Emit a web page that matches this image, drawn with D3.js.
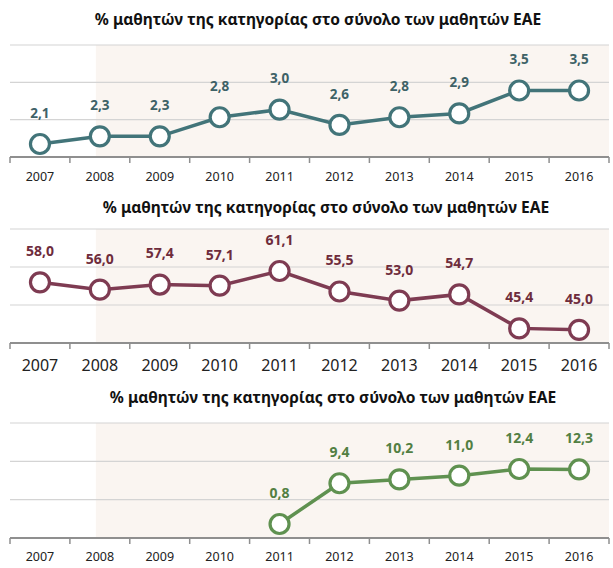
<!DOCTYPE html>
<html><head><meta charset="utf-8">
<script src="https://cdn.jsdelivr.net/npm/d3@7"></script>
<style>body{margin:0;background:#fff}svg{display:block}</style>
</head><body>
<script>
const years = ["2007","2008","2009","2010","2011","2012","2013","2014","2015","2016"];
const title = "% μαθητών της κατηγορίας στο σύνολο των μαθητών EAE";
const series1 = [2.1, 2.3, 2.3, 2.8, 3.0, 2.6, 2.8, 2.9, 3.5, 3.5];
const series2 = [58.0, 56.0, 57.4, 57.1, 61.1, 55.5, 53.0, 54.7, 45.4, 45.0];
const series3 = [null, null, null, null, 0.8, 9.4, 10.2, 11.0, 12.4, 12.3];
const domain1 = [1.76, 4.69];
const domain2 = [41.4, 72.6];
const domain3 = [-2.15, 22.1];

const W = 613, H = 568;
const svg = d3.select("body").append("svg").attr("width", W).attr("height", H);
const FONT = "'Noto Sans', 'Open Sans', sans-serif";

const charts = [
  {vals: series1, dom: domain1, top: 45, axis: 157, titleY: 20, titleX: 318, tickY: 177, tickSize: 12.5, labSize: 13.5,
   line: "#427479", lab: "#3e6267"},
  {vals: series2, dom: domain2, top: 229, axis: 343, titleY: 208, titleX: 326, tickY: 365, tickSize: 16, labSize: 14,
   line: "#7e3b52", lab: "#6e2c3c"},
  {vals: series3, dom: domain3, top: 423, axis: 538, titleY: 398, titleX: 333, tickY: 557, tickSize: 12.5, labSize: 14,
   line: "#5f9150", lab: "#527f43"}
];

const x = d3.scaleBand().domain(years).range([10, 609]);

charts.forEach(c => {
  const g = svg.append("g");
  const y = d3.scaleLinear().domain(c.dom).range([c.axis, c.top]);
  g.append("rect").attr("x", x("2008") + x.bandwidth()/2 - 4).attr("y", c.top)
    .attr("width", 609 - (x("2008") + x.bandwidth()/2 - 4)).attr("height", c.axis - c.top)
    .attr("fill", "#faf5f1");
  const gv = d3.range(4).map(i => c.dom[0] + (c.dom[1]-c.dom[0]) * i / 3);
  g.selectAll(".grid").data(gv.slice(1)).join("line")
    .attr("x1", 10).attr("x2", 609).attr("y1", d => y(d)).attr("y2", d => y(d))
    .attr("stroke", "#d4d4d4").attr("stroke-width", 1.2);
  const ax = g.append("g").attr("transform", `translate(0,${c.axis})`)
    .call(d3.axisBottom(x).tickSize(0).tickPadding(0));
  ax.select(".domain").attr("stroke", "#8f8f8f").attr("stroke-width", 2).attr("d", "M10,0H609");
  ax.selectAll(".tick text").attr("y", c.tickY - c.axis).attr("dy", "0.35em")
    .attr("font-family", FONT).attr("font-size", c.tickSize).attr("fill", "#222");
  const edges = years.map(yv => x(yv)).concat([609]);
  ax.selectAll(".tk").data(edges).join("line")
    .attr("x1", d => d).attr("x2", d => d).attr("y1", 0).attr("y2", 6)
    .attr("stroke", "#8f8f8f").attr("stroke-width", 1.5);
  const t = g.append("text").attr("x", c.titleX).attr("y", c.titleY).attr("dy", "0.35em")
    .attr("text-anchor", "middle").attr("font-family", FONT).attr("font-weight", "bold")
    .attr("font-size", 15).attr("fill", "#111").text(title);
  const tw = t.node().getComputedTextLength();
  t.attr("font-size", 15 * 447 / tw);
  const pts = years.map((yr, i) => ({yr, v: c.vals[i]})).filter(d => d.v != null);
  const line = d3.line().x(d => x(d.yr) + x.bandwidth()/2).y(d => y(d.v));
  g.append("path").datum(pts).attr("d", line).attr("fill", "none")
    .attr("stroke", c.line).attr("stroke-width", 3.5);
  g.selectAll(".pt").data(pts).join("circle")
    .attr("cx", d => x(d.yr) + x.bandwidth()/2).attr("cy", d => y(d.v)).attr("r", 9.5)
    .attr("fill", "#fff").attr("stroke", c.line).attr("stroke-width", 3.2);
  g.selectAll(".lab").data(pts).join("text")
    .attr("x", d => x(d.yr) + x.bandwidth()/2).attr("y", d => y(d.v) - 31).attr("dy", "0.35em")
    .attr("text-anchor", "middle").attr("font-family", FONT).attr("font-weight", "bold")
    .attr("font-size", c.labSize).attr("fill", c.lab)
    .text(d => d.v.toFixed(1).replace(".", ","));
});
</script>
</body></html>
